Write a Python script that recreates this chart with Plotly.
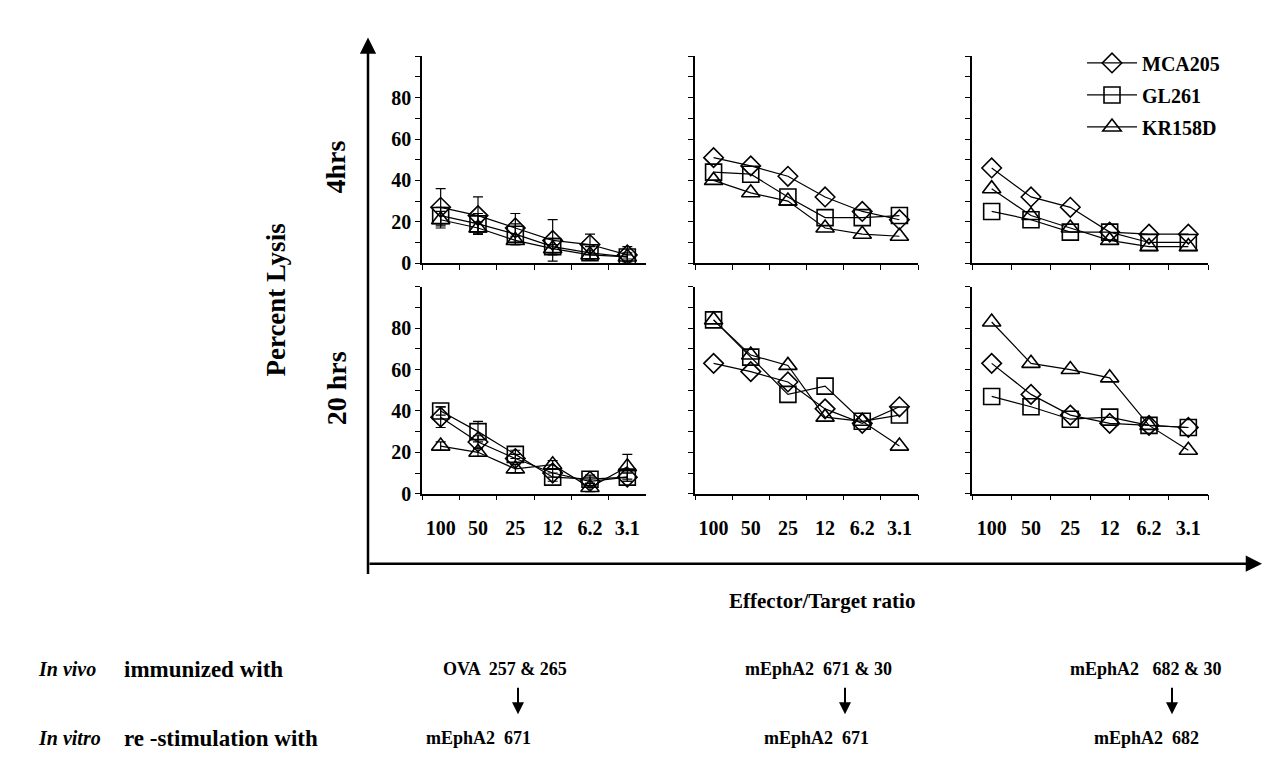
import plotly.graph_objects as go

# page body has an 8px margin; the figure is sized so that the page is 1271x758
OFF = 8
W, H = 1271 - 2 * OFF, 758 - 2 * OFF

ratios = ["100", "50", "25", "12", "6.2", "3.1"]
series_names = ["MCA205", "GL261", "KR158D"]
symbols = ["diamond-open", "square-open", "triangle-up-open"]

# 4 hrs
lysis_4h_ova = {
    "MCA205": [27, 23, 17, 11, 9, 4],
    "GL261": [23, 19, 14, 8, 5, 3],
    "KR158D": [21, 17, 11, 7, 4, 3],
}
err_4h_ova = {
    "MCA205": [9, 9, 7, 10, 5, 4],
    "GL261": [4, 5, 5, 4, 3, 2],
    "KR158D": [4, 3, 2, 2, 2, 1],
}
lysis_4h_671 = {
    "MCA205": [51, 47, 42, 32, 25, 21],
    "GL261": [44, 43, 32, 22, 22, 23],
    "KR158D": [40, 34, 30, 17, 14, 13],
}
lysis_4h_682 = {
    "MCA205": [46, 32, 27, 15, 14, 14],
    "GL261": [25, 21, 15, 15, 10, 10],
    "KR158D": [36, 23, 17, 11, 8, 8],
}
# 20 hrs
lysis_20h_ova = {
    "MCA205": [37, 25, 17, 10, 6, 8],
    "GL261": [40, 30, 19, 8, 7, 8],
    "KR158D": [23, 20, 12, 14, 3, 13],
}
err_20h_ova = {
    "MCA205": [5, 3, 2, 2, 2, 2],
    "GL261": [2, 5, 2, 2, 2, 2],
    "KR158D": [2, 2, 2, 2, 2, 6],
}
lysis_20h_671 = {
    "MCA205": [63, 59, 54, 41, 34, 42],
    "GL261": [84, 66, 48, 52, 35, 38],
    "KR158D": [84, 67, 62, 37, 35, 23],
}
lysis_20h_682 = {
    "MCA205": [63, 48, 38, 34, 33, 32],
    "GL261": [47, 42, 36, 37, 33, 32],
    "KR158D": [83, 63, 60, 56, 33, 21],
}

panels = [
    (lysis_4h_ova, err_4h_ova), (lysis_4h_671, None), (lysis_4h_682, None),
    (lysis_20h_ova, err_20h_ova), (lysis_20h_671, None), (lysis_20h_682, None),
]


def px(x):
    return (x - OFF) / W


def py(y):
    return 1 - (y - OFF) / H


# pixel geometry (page coordinates) of the panels
col_px = [(422, 646), (695, 918), (972, 1208)]
row_px = [(57, 267), (291, 501)]  # (top at 100, bottom at 0)

FONT = "Liberation Serif"

fig = go.Figure()
layout = {}
for i, (data, err) in enumerate(panels):
    r, c = divmod(i, 3)
    n = i + 1
    xa = "x" if n == 1 else f"x{n}"
    ya = "y" if n == 1 else f"y{n}"
    for k, name in enumerate(series_names):
        tr = dict(
            x=ratios, y=data[name], mode="lines+markers", name=name,
            line=dict(color="black", width=1.2),
            marker=dict(symbol=symbols[k], size=[15, 16, 16][k],
                        color="black", line=dict(width=1.6, color="black")),
            xaxis=xa, yaxis=ya, showlegend=(i == 0), legendgroup=name,
        )
        if err is not None:
            tr["error_y"] = dict(type="data", array=err[name], color="black",
                                 thickness=1.2, width=5)
        fig.add_trace(go.Scatter(**tr))
    x0, x1 = col_px[c]
    y0, y1 = row_px[r]
    xkey = "xaxis" if n == 1 else f"xaxis{n}"
    ykey = "yaxis" if n == 1 else f"yaxis{n}"
    layout[xkey] = dict(
        domain=[px(x0), px(x1)], anchor=ya, type="category",
        categoryorder="array", categoryarray=ratios,
        range=[-0.5, 5.5], tickson="boundaries", ticks="outside", ticklen=5,
        tickcolor="black", showline=True, linecolor="black", linewidth=1.5,
        showgrid=False, zeroline=False, showticklabels=(r == 1), tickangle=0,
        ticklabelstandoff=16,
        tickfont=dict(family=FONT, size=20, color="black", weight="bold"),
    )
    layout[ykey] = dict(
        domain=[py(y1), py(y0)], anchor=xa, range=[0, 100],
        tickvals=[0, 20, 40, 60, 80], ticks="outside", ticklen=5,
        tickcolor="black", showline=True, linecolor="black", linewidth=1.5,
        showgrid=False, zeroline=False, showticklabels=(c == 0),
        minor=dict(dtick=10, ticks="outside", ticklen=5, tickcolor="black"),
        tickfont=dict(family=FONT, size=20, color="black", weight="bold"),
    )

fig.update_layout(**layout)

annotations = []
# big axes arrows
annotations.append(dict(x=px(368), y=py(38), xref="paper", yref="paper",
                        ax=0, ay=538, showarrow=True, arrowhead=2, arrowsize=1.3,
                        arrowwidth=2.5, arrowcolor="black", text=""))
annotations.append(dict(x=px(1262), y=py(572), xref="paper", yref="paper",
                        ax=-894, ay=0, showarrow=True, arrowhead=2, arrowsize=1.3,
                        arrowwidth=2.5, arrowcolor="black", text=""))


def txt(x, y, s, size=17, angle=0, italic=False, anchor="center"):
    annotations.append(dict(
        x=px(x), y=py(y), xref="paper", yref="paper", text=s, showarrow=False,
        textangle=angle, xanchor=anchor, yanchor="middle",
        font=dict(family=FONT, size=size, color="black", weight="bold",
                  style="italic" if italic else "normal")))


txt(276, 305, "Percent Lysis", size=27, angle=-90)
txt(336, 170, "4hrs", size=28, angle=-90)
txt(336, 394, "20 hrs", size=28, angle=-90)
txt(822, 610, "Effector/Target ratio", size=21)

# protocol rows
ROW1, ROW2 = 679, 749
txt(36, ROW1, "In vivo", size=20, italic=True, anchor="left")
txt(122, ROW1, "immunized with", size=23, anchor="left")
txt(36, ROW2, "In vitro", size=20, italic=True, anchor="left")
txt(122, ROW2, "re -stimulation with", size=23, anchor="left")

invivo = ["OVA  257 &amp; 265", "mEphA2  671 &amp; 30", "mEphA2   682 &amp; 30"]
invitro = ["mEphA2  671", "mEphA2  671", "mEphA2  682"]
centers_top = [505, 818, 1146]
centers_bot = [478, 816, 1146]
arrow_x = [518, 845, 1172]
for k in range(3):
    txt(centers_top[k], ROW1, invivo[k], size=18)
    txt(centers_bot[k], ROW2, invitro[k], size=18)
    annotations.append(dict(x=px(arrow_x[k]), y=py(725), xref="paper", yref="paper",
                            ax=0, ay=-28, showarrow=True, arrowhead=2, arrowsize=1.2,
                            arrowwidth=2, arrowcolor="black", text=""))

fig.update_layout(
    width=W, height=H, margin=dict(l=0, r=0, t=0, b=0),
    paper_bgcolor="white", plot_bgcolor="white",
    annotations=annotations,
    legend=dict(x=px(1082), y=py(44), xanchor="left", yanchor="top",
                font=dict(family=FONT, size=20, color="black", weight="bold"),
                bgcolor="rgba(0,0,0,0)", tracegroupgap=3, itemwidth=50),
)

fig.write_html("out.html", config={"displayModeBar": False})
